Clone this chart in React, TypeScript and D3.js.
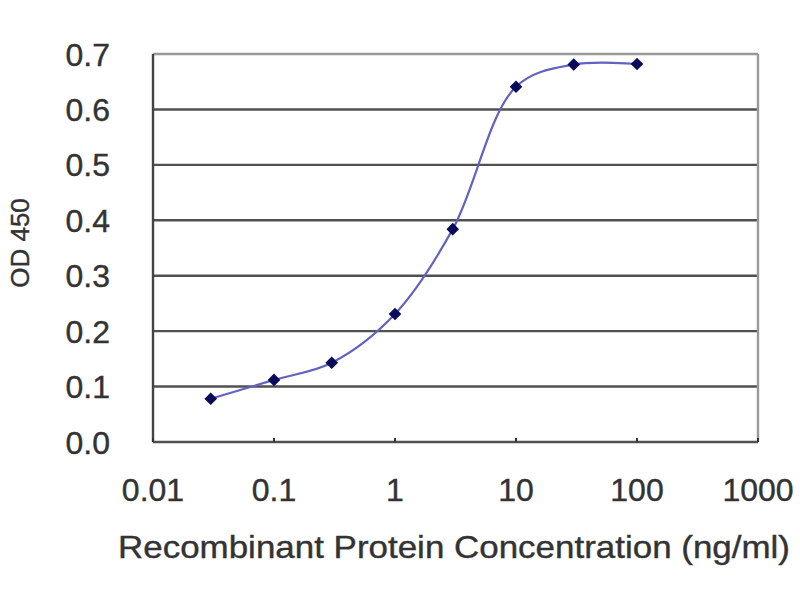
import * as d3 from "d3";

// concentrations (ng/ml) and OD 450 readings
const concentrations = [0.03, 0.1, 0.3, 1, 3, 10, 30, 100];
const odValues = [0.078, 0.112, 0.143, 0.231, 0.384, 0.641, 0.681, 0.682];

const xTicks = [0.01, 0.1, 1, 10, 100, 1000];
const xTickLabels = ["0.01", "0.1", "1", "10", "100", "1000"];
const yTicks = [0, 0.1, 0.2, 0.3, 0.4, 0.5, 0.6, 0.7];

const width = 800;
const height = 600;
const margin = { top: 54, right: 42, bottom: 158, left: 153 };

const font = "'Liberation Sans', Arial, sans-serif";
const textColor = "#333";

export default function App() {
  const innerW = width - margin.left - margin.right;
  const innerH = height - margin.top - margin.bottom;

  const x = d3.scaleLog().domain([0.01, 1000]).range([margin.left, margin.left + innerW]);
  const y = d3.scaleLinear().domain([0, 0.7]).range([margin.top + innerH, margin.top]);

  const pts: [number, number][] = concentrations.map((c, i) => [x(c), y(odValues[i])]);
  const line = d3.line().curve(d3.curveCatmullRom.alpha(0.5))(pts) || "";

  // square turned 45 degrees = excel style diamond
  const diamond = d3.symbol().type(d3.symbolSquare).size(80)() || "";

  return (
    <svg
      width={width}
      height={height}
      style={{ position: "absolute", left: 0, top: 0, background: "#fff" }}
    >
      {/* gridlines */}
      {yTicks.map((t) => (
        <line
          key={t}
          x1={margin.left}
          x2={margin.left + innerW}
          y1={y(t)}
          y2={y(t)}
          stroke={t === 0.7 ? "#999" : "#505050"}
          strokeWidth={2.4}
        />
      ))}
      {/* right border */}
      <line
        x1={margin.left + innerW}
        x2={margin.left + innerW}
        y1={margin.top}
        y2={margin.top + innerH}
        stroke="#999"
        strokeWidth={2.4}
      />
      {/* y axis */}
      <line
        x1={margin.left}
        x2={margin.left}
        y1={margin.top}
        y2={margin.top + innerH}
        stroke="#444"
        strokeWidth={2.4}
      />
      {/* x axis ticks */}
      {xTicks.map((t) => (
        <line key={t} x1={x(t)} x2={x(t)} y1={y(0)} y2={y(0) - 4} stroke="#333" strokeWidth={2} />
      ))}

      {/* y tick labels */}
      {yTicks.map((t) => (
        <text
          key={t}
          x={110}
          y={y(t)}
          dy="0.36em"
          textAnchor="end"
          fontFamily={font}
          fontSize={32}
          fill={textColor}
          stroke={textColor}
          strokeWidth={0.4}
        >
          {t.toFixed(1)}
        </text>
      ))}
      {/* x tick labels */}
      {xTicks.map((t, i) => (
        <text
          key={t}
          x={x(t)}
          y={489}
          dy="0.36em"
          textAnchor="middle"
          fontFamily={font}
          fontSize={32}
          fill={textColor}
          stroke={textColor}
          strokeWidth={0.4}
        >
          {xTickLabels[i]}
        </text>
      ))}

      <text
        x={118}
        y={546}
        dy="0.36em"
        textLength={672}
        lengthAdjust="spacingAndGlyphs"
        fontFamily={font}
        fontSize={32}
        fill={textColor}
        stroke={textColor}
        strokeWidth={0.4}
      >
        Recombinant Protein Concentration (ng/ml)
      </text>
      <text
        transform={`translate(20,243) rotate(-90)`}
        dy="0.36em"
        textAnchor="middle"
        fontFamily={font}
        fontSize={26}
        fill={textColor}
        stroke={textColor}
        strokeWidth={0.4}
      >
        OD 450
      </text>

      {/* curve */}
      <path d={line} fill="none" stroke="#6262c0" strokeWidth={2.2} />
      {pts.map((p, i) => (
        <path
          key={i}
          d={diamond}
          transform={`translate(${p[0]},${p[1]}) rotate(45)`}
          fill="#0a0a5a"
        />
      ))}
    </svg>
  );
}
